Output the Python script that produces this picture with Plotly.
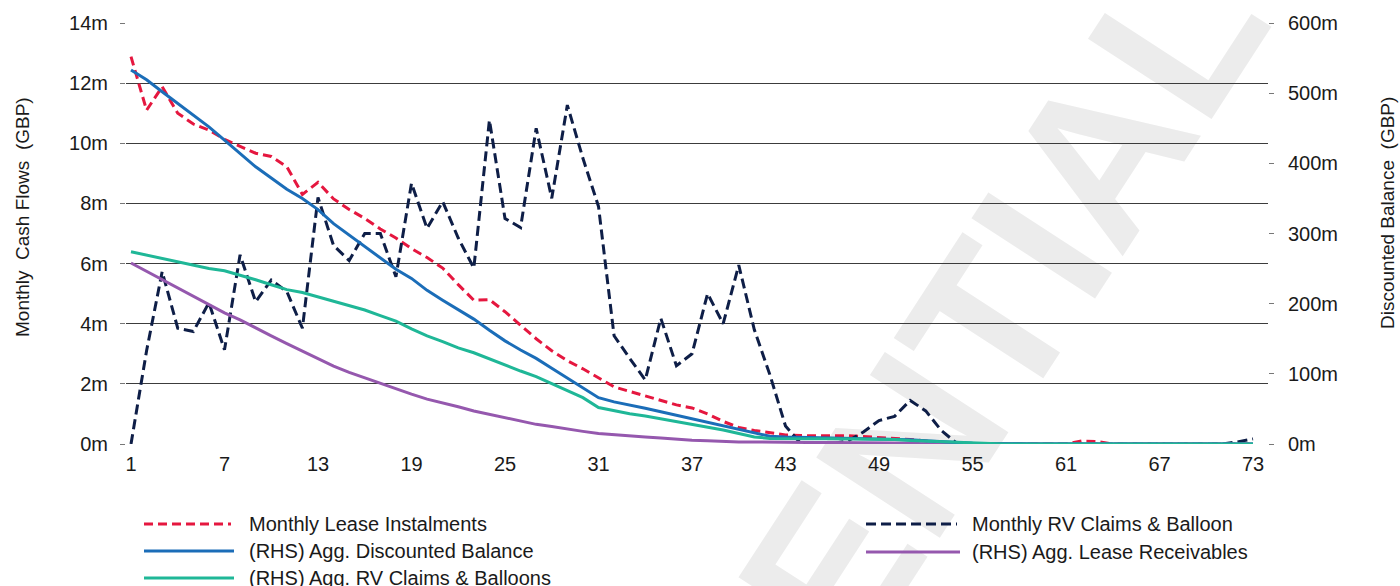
import plotly.graph_objects as go

# ---------------- data (GBP m) ----------------
months = list(range(1, 74))
x_tick_labels = ["1", "7", "13", "19", "25", "31", "37", "43", "49", "55", "61", "67", "73"]

# LHS series
monthly_lease_instalments = [
    12.88, 11.1, 11.88, 11.0, 10.64, 10.44, 10.13, 9.89, 9.67, 9.56,
    9.22, 8.3, 8.7, 8.15, 7.8, 7.5, 7.15, 6.85, 6.5, 6.2,
    5.85, 5.3, 4.78, 4.8, 4.4, 3.95, 3.5, 3.1, 2.77, 2.5,
    2.2, 1.9, 1.75, 1.6, 1.45, 1.3, 1.2, 1.0, 0.75, 0.55,
    0.45, 0.38, 0.3, 0.28, 0.27, 0.27, 0.28, 0.25, 0.2, 0.18,
    0.15, 0.1, 0.05, 0.02, 0, 0, 0, 0, 0, 0,
    0, 0.1, 0.08, 0, 0, 0, 0, 0, 0, 0,
    0, 0, 0]
monthly_rv_claims_balloon = [
    0, 3.1, 5.73, 3.85, 3.74, 4.7, 3.13, 6.29, 4.73, 5.45,
    5.07, 3.85, 8.2, 6.6, 6.1, 7.0, 7.0, 5.56, 8.67, 7.17,
    8.06, 6.85, 5.85, 10.77, 7.5, 7.2, 10.5, 8.17, 11.27, 9.5,
    7.9, 3.6, 2.85, 2.13, 4.18, 2.6, 3.0, 5.0, 4.0, 5.95,
    3.8, 2.3, 0.6, 0.0, 0.0, 0.02, 0.1, 0.4, 0.78, 0.92,
    1.45, 1.1, 0.45, 0.02, 0, 0, 0, 0, 0, 0,
    0, 0, 0, 0, 0, 0, 0, 0, 0, 0,
    0, 0.07, 0.17]

# RHS series
agg_discounted_balance = [
    533, 519, 502, 485, 469, 452, 433, 414, 395, 379,
    363, 350, 334, 314, 298, 281, 266, 249, 236, 219,
    205, 191, 178, 162, 147, 134, 122, 108, 94, 79,
    66, 60, 56, 51, 46, 41, 36, 31, 26, 20,
    15, 11, 10, 9.5, 9, 9, 8.5, 8, 8, 7,
    6, 4.5, 3, 2, 1, 0.5, 0, 0, 0, 0,
    0, 0, 0, 0, 0, 0, 0, 0, 0, 0,
    0, 0, 0]
agg_rv_claims_balloons = [
    274, 269, 265, 260, 255, 250, 247, 241, 234, 227,
    220, 216, 210, 203, 197, 191, 183, 175, 164, 154,
    146, 137, 130, 121, 113, 104, 96, 86, 77, 66,
    52, 47, 43, 40, 36, 33, 29, 25, 20, 15,
    10, 8, 7.5, 7.5, 7.5, 7.5, 7.5, 7, 7, 6.5,
    5, 4, 3, 2, 1, 0, 0, 0, 0, 0,
    0, 0, 0, 0, 0, 0, 0, 0, 0, 0,
    0, 0, 0]
agg_lease_receivables = [
    258, 246, 234, 222, 210, 198, 187, 177, 165, 154,
    143, 132, 122, 111, 102, 94, 86, 78, 71, 64,
    59, 53, 47, 42, 37, 33, 28, 25, 21, 18,
    15, 13, 11.5, 10, 8.5, 6.5, 5.5, 4.5, 3.5, 3,
    3, 2.5, 2.5, 2, 2, 2, 2, 1.5, 1.5, 1,
    1, 0.5, 0.5, 0.3, 0, 0, 0, 0, 0, 0,
    0, 0, 0, 0, 0, 0, 0, 0, 0, 0,
    0, 0, 0]

left_ticks = [0, 2, 4, 6, 8, 10, 12, 14]
right_ticks = [0, 100, 200, 300, 400, 500, 600]

# ---------------- styling ----------------
RED = "#E5173F"
NAVY = "#0E1E47"
BLUE = "#1B6DB8"
TEAL = "#1FB797"
PURPLE = "#9558AE"
FONT = "Liberation Sans, Arial, Helvetica, sans-serif"
TXT = "#1a1a1a"
TICK_SIZE = 20
TITLE_SIZE = 19
LEGEND_SIZE = 20

W, H = 1400, 586
L, R, T, B = 126, 1268, 23, 444  # plot area in pixels


def px(x):
    return (x - L) / (R - L)


def py(y):
    return (B - y) / (B - T)


series = [
    # name, values, axis, colour, dash
    ("Monthly Lease Instalments", monthly_lease_instalments, "y", RED, "9px,5px"),
    ("Monthly RV Claims & Balloon", monthly_rv_claims_balloon, "y", NAVY, "10px,5px"),
    ("(RHS) Agg. Lease Receivables", agg_lease_receivables, "y2", PURPLE, "solid"),
    ("(RHS) Agg. Discounted Balance", agg_discounted_balance, "y2", BLUE, "solid"),
    ("(RHS) Agg. RV Claims & Balloons", agg_rv_claims_balloons, "y2", TEAL, "solid"),
]

fig = go.Figure()
for name, vals, ax, col, dash in series:
    fig.add_trace(go.Scatter(x=months, y=vals, name=name, yaxis=ax, mode="lines",
                             line=dict(color=col, width=3, dash=dash)))

step = (1253 - 131) / 72.0
x0 = 1 - (131 - L) / step
x1 = 73 + (R - 1253) / step

fig.update_layout(
    width=W, height=H,
    margin=dict(l=L, r=W - R, t=T, b=H - B, pad=0),
    paper_bgcolor="white", plot_bgcolor="rgba(0,0,0,0)",
    showlegend=False,
    font=dict(family=FONT, color=TXT, size=LEGEND_SIZE),
    xaxis=dict(range=[x0, x1], tickmode="array", tickvals=[int(t) for t in x_tick_labels],
               ticktext=x_tick_labels, showgrid=False, zeroline=False, showline=False,
               ticks="", tickfont=dict(size=TICK_SIZE, color=TXT), ticklabelstandoff=6),
    yaxis=dict(range=[0, 14], tickmode="array", tickvals=left_ticks,
               ticktext=[f"{v}m" for v in left_ticks], showgrid=True, gridcolor="#3c3c3c",
               gridwidth=1, zeroline=False, showline=False, ticks="outside", ticklen=5,
               tickcolor="#777", tickfont=dict(size=TICK_SIZE, color=TXT), ticklabelstandoff=8),
    yaxis2=dict(range=[0, 600], overlaying="y", side="right", tickmode="array",
                tickvals=right_ticks, ticktext=[f"{v}m" for v in right_ticks],
                showgrid=False, zeroline=False, showline=False, ticks="outside", ticklen=5,
                tickcolor="#777", tickfont=dict(size=TICK_SIZE, color=TXT), ticklabelstandoff=10),
)

# watermark (behind everything)
wx, wy = px(762), py(638)
fig.add_shape(type="rect", xref="paper", yref="paper", layer="below",
              x0=wx - 0.001, x1=wx + 0.001, y0=wy - 0.001, y1=wy + 0.001,
              line=dict(width=0), fillcolor="rgba(0,0,0,0)",
              label=dict(text="CONFIDENTIAL", textangle=-57, textposition="middle center",
                         font=dict(family=FONT, size=214, color="#ececec", weight="bold")))

# axis titles
fig.add_annotation(text="Monthly\u00a0 Cash Flows\u00a0 (GBP)", xref="paper", yref="paper",
                   x=px(22), y=py(217), textangle=-90, showarrow=False,
                   font=dict(size=TITLE_SIZE, color=TXT), xanchor="center", yanchor="middle")
fig.add_annotation(text="Discounted Balance\u00a0 (GBP)", xref="paper", yref="paper",
                   x=px(1388), y=py(213), textangle=-90, showarrow=False,
                   font=dict(size=TITLE_SIZE, color=TXT), xanchor="center", yanchor="middle")

# legend (two columns)
legend_layout = {
    "Monthly Lease Instalments": (144, 231, 524),
    "(RHS) Agg. Discounted Balance": (144, 234, 551),
    "(RHS) Agg. RV Claims & Balloons": (144, 234, 578),
    "Monthly RV Claims & Balloon": (866, 957, 524),
    "(RHS) Agg. Lease Receivables": (866, 960, 552),
}
legend_text_x = {"left": 247, "right": 970}
for name, vals, ax, col, dash in series:
    xa, xb, yy = legend_layout[name]
    tx = legend_text_x["left"] if xa < 500 else legend_text_x["right"]
    fig.add_shape(type="line", xref="paper", yref="paper", x0=px(xa), x1=px(xb),
                  y0=py(yy), y1=py(yy), line=dict(color=col, width=3, dash=dash))
    fig.add_annotation(text=name, xref="paper", yref="paper", x=px(tx), y=py(yy),
                       xanchor="left", yanchor="middle", showarrow=False,
                       font=dict(size=LEGEND_SIZE, color=TXT))

fig.write_html("out.html", config={"displayModeBar": False},
               post_script="document.body.style.margin='0';")
